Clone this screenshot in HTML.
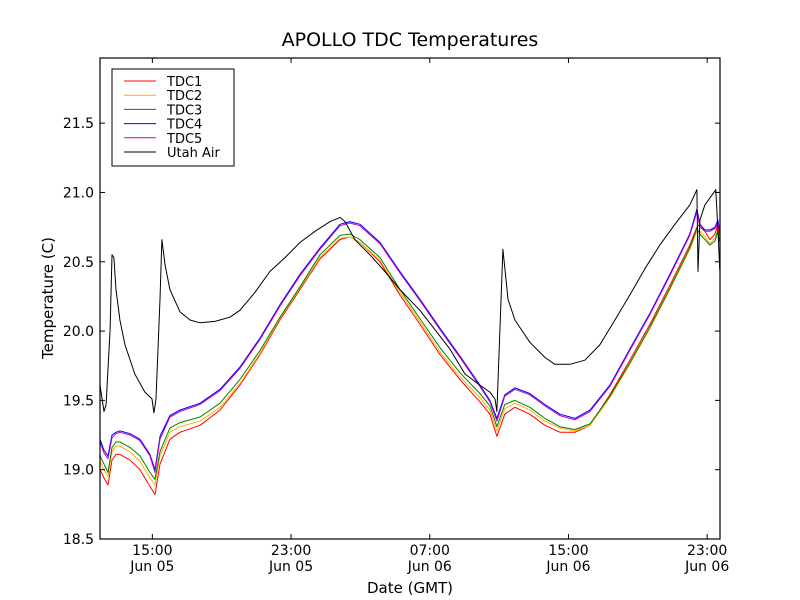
<!DOCTYPE html>
<html><head><meta charset="utf-8"><style>
body{margin:0;background:#fff;}
svg{display:block;font-family:"DejaVu Sans","Liberation Sans",sans-serif;}
</style></head><body>
<svg id="chart" width="800" height="600" viewBox="0 0 800 600"></svg>
<script>
const tdcHours=[11.98,12.21,12.44,12.67,12.90,13.13,13.71,14.28,14.86,15.15,15.44,16.01,16.59,17.75,18.90,20.05,21.21,22.36,23.52,24.67,25.82,26.39,26.97,28.13,29.28,30.43,31.59,32.74,33.89,34.47,34.87,35.33,35.91,36.77,37.64,38.51,39.37,40.24,41.39,42.54,43.70,44.85,46.00,46.41,46.58,46.87,47.16,47.45,47.62,47.73];
const tdc1=[19.00,18.94,18.89,19.07,19.11,19.11,19.07,19.00,18.88,18.82,19.04,19.22,19.27,19.32,19.43,19.61,19.83,20.08,20.30,20.52,20.66,20.68,20.64,20.50,20.26,20.05,19.83,19.65,19.49,19.40,19.24,19.40,19.45,19.40,19.32,19.27,19.27,19.32,19.54,19.79,20.05,20.33,20.62,20.75,20.77,20.72,20.66,20.70,20.77,20.68];
const tdc2=[19.06,19.00,18.95,19.13,19.17,19.17,19.13,19.06,18.94,18.89,19.10,19.27,19.31,19.35,19.45,19.62,19.84,20.09,20.31,20.53,20.67,20.68,20.64,20.51,20.28,20.07,19.85,19.67,19.52,19.43,19.28,19.44,19.48,19.43,19.35,19.30,19.28,19.32,19.52,19.76,20.02,20.30,20.59,20.72,20.72,20.68,20.63,20.67,20.74,20.66];
const tdc3=[19.10,19.04,18.98,19.16,19.20,19.20,19.16,19.10,18.98,18.93,19.13,19.30,19.34,19.38,19.48,19.65,19.86,20.10,20.32,20.55,20.69,20.70,20.66,20.53,20.30,20.09,19.88,19.70,19.55,19.46,19.31,19.47,19.50,19.45,19.37,19.31,19.29,19.33,19.53,19.77,20.03,20.31,20.60,20.74,20.70,20.66,20.62,20.65,20.72,20.64];
const tdc4=[19.22,19.14,19.10,19.25,19.27,19.28,19.26,19.22,19.11,19.00,19.24,19.39,19.43,19.48,19.58,19.74,19.95,20.19,20.41,20.60,20.77,20.79,20.77,20.64,20.43,20.23,20.02,19.82,19.61,19.50,19.37,19.54,19.59,19.55,19.47,19.40,19.37,19.43,19.61,19.87,20.13,20.41,20.70,20.88,20.77,20.73,20.73,20.75,20.80,20.72];
const tdc5=[19.20,19.12,19.08,19.23,19.26,19.27,19.25,19.21,19.10,18.98,19.22,19.38,19.42,19.47,19.57,19.73,19.94,20.18,20.40,20.59,20.76,20.78,20.76,20.63,20.42,20.22,20.01,19.81,19.60,19.49,19.35,19.53,19.58,19.54,19.46,19.39,19.36,19.42,19.60,19.86,20.12,20.40,20.69,20.86,20.75,20.72,20.72,20.74,20.78,20.70];
const airHours=[11.98,12.21,12.33,12.56,12.67,12.78,12.90,13.13,13.42,13.99,14.57,14.98,15.09,15.21,15.44,15.55,15.73,16.01,16.59,17.17,17.75,18.61,19.48,20.05,20.92,21.78,22.65,23.52,24.38,25.25,25.82,26.11,26.68,27.55,28.41,29.28,30.43,31.30,32.16,33.03,33.89,34.47,34.76,34.87,35.22,35.51,35.91,36.77,37.64,38.21,39.08,39.94,40.81,41.68,42.54,43.41,44.27,45.14,46.00,46.41,46.47,46.58,46.87,47.27,47.50,47.62,47.73];
const airTemp=[19.61,19.42,19.47,20.01,20.55,20.53,20.30,20.08,19.90,19.69,19.56,19.51,19.41,19.51,20.23,20.66,20.48,20.30,20.14,20.08,20.06,20.07,20.10,20.15,20.28,20.43,20.53,20.64,20.72,20.79,20.82,20.79,20.66,20.55,20.43,20.30,20.15,20.01,19.87,19.69,19.61,19.56,19.51,19.42,20.59,20.23,20.08,19.92,19.81,19.76,19.76,19.79,19.90,20.08,20.26,20.45,20.62,20.77,20.91,21.02,20.43,20.80,20.91,20.98,21.02,20.73,20.44];
const yTicks=[18.5,19.0,19.5,20.0,20.5,21.0,21.5];
const yTickLabels=["18.5","19.0","19.5","20.0","20.5","21.0","21.5"];
const xTicks=[15,23,31,39,47];
const xTickTimes=["15:00","23:00","07:00","15:00","23:00"];
const xTickDays=["Jun 05","Jun 05","Jun 06","Jun 06","Jun 06"];

const L=100,R=720,T=58,B=539;
const xMin=11.98,xMax=47.74,yMin=18.5,yMax=21.97;
const xs=h=>L+(h-xMin)/(xMax-xMin)*(R-L);
const ys=v=>B-(v-yMin)/(yMax-yMin)*(B-T);
const svg=document.getElementById('chart');
const NS='http://www.w3.org/2000/svg';
function mk(tag,attrs,parent){const e=document.createElementNS(NS,tag);for(const k in attrs)e.setAttribute(k,attrs[k]);(parent||svg).appendChild(e);return e;}

const title=mk('text',{x:410,y:46,'text-anchor':'middle','font-size':19,fill:'#000'});
title.textContent='APOLLO TDC Temperatures';



const series=[
 {name:'tdc1-line',h:tdcHours,v:tdc1,c:'#ff0000'},
 {name:'tdc2-line',h:tdcHours,v:tdc2,c:'#ffb000'},
 {name:'tdc3-line',h:tdcHours,v:tdc3,c:'#008000'},
 {name:'tdc4-line',h:tdcHours,v:tdc4,c:'#0000ff'},
 {name:'tdc5-line',h:tdcHours,v:tdc5,c:'#bf00bf'},
 {name:'utah-air-line',h:airHours,v:airTemp,c:'#000000'}];
const plot=mk('g',{});


series.forEach(s=>{
 const d=s.h.map((h,i)=>(i?'L':'M')+xs(h).toFixed(1)+','+ys(s.v[i]).toFixed(1)).join('');
 const p=mk('path',{d:d,fill:'none',stroke:s.c,'stroke-width':1,'stroke-linejoin':'round'},plot);
 
 
});

const frame=mk('rect',{x:L,y:T,width:R-L,height:B-T,fill:'none',stroke:'#000','stroke-width':1.2});



yTicks.forEach((v,i)=>{
 const y=ys(v);
 mk('line',{x1:L,x2:L+5,y1:y,y2:y,stroke:'#000'});
 mk('line',{x1:R,x2:R-5,y1:y,y2:y,stroke:'#000'});
 const t=mk('text',{x:L-6,y:y+5,'text-anchor':'end','font-size':14});
 t.textContent=yTickLabels[i];
 
 
});
xTicks.forEach((h,i)=>{
 const x=xs(h);
 mk('line',{x1:x,x2:x,y1:B,y2:B-5,stroke:'#000'});
 mk('line',{x1:x,x2:x,y1:T,y2:T+5,stroke:'#000'});
 const t=mk('text',{x:x,y:555,'text-anchor':'middle','font-size':14});
 t.textContent=xTickTimes[i];
 
 
 const t2=mk('text',{x:x,y:571,'text-anchor':'middle','font-size':14});
 t2.textContent=xTickDays[i];
 
 
});
const xl=mk('text',{x:410,y:593,'text-anchor':'middle','font-size':15});
xl.textContent='Date (GMT)';


const yl=mk('text',{x:53,y:298,'text-anchor':'middle','font-size':15,transform:'rotate(-90 53 298)'});
yl.textContent='Temperature (C)';



const lg=mk('g',{});


mk('rect',{x:112,y:69,width:122,height:97,fill:'#fff',stroke:'#000','stroke-width':1},lg);
const names=['TDC1','TDC2','TDC3','TDC4','TDC5','Utah Air'];
names.forEach((n,i)=>{
 const y=81+i*14.2;
 mk('line',{x1:124,x2:156,y1:y,y2:y,stroke:series[i].c,'stroke-width':1},lg);
 const t=mk('text',{x:167,y:y+5,'font-size':13},lg);
 t.textContent=n;
 
 
});
</script>
</body></html>
